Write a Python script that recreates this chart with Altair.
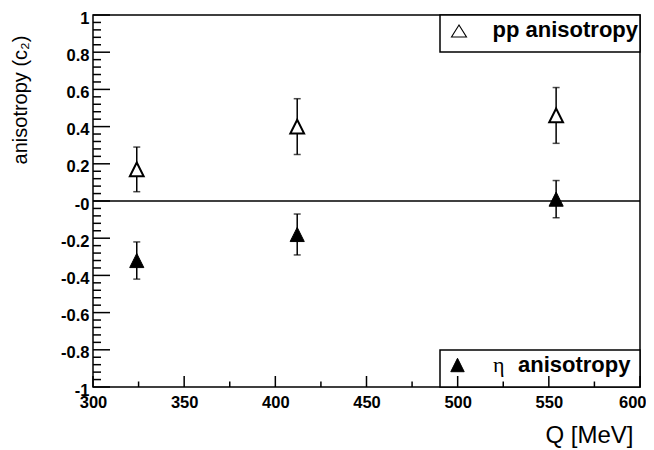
import altair as alt
import pandas as pd

# measured values
q_pp = [324, 412, 554]
c2_pp = [0.17, 0.40, 0.46]
err_pp = [0.12, 0.15, 0.15]

q_eta = [324, 412, 554]
c2_eta = [-0.32, -0.18, 0.01]
err_eta = [0.10, 0.11, 0.10]

x_major = [300, 350, 400, 450, 500, 550, 600]
x_minor = [325, 375, 425, 475, 525, 575]
y_major = [-1.0, -0.8, -0.6, -0.4, -0.2, 0.0, 0.2, 0.4, 0.6, 0.8, 1.0]
y_minor = [round(-1 + 0.04 * i, 2) for i in range(51) if i % 5 != 0]

W, H = 547, 372
FONT = "Liberation Sans"

rows = []
for q, c, e in zip(q_pp, c2_pp, err_pp):
    rows.append(dict(series="pp", Q=q, c2=c, lo=c - e, hi=c + e))
for q, c, e in zip(q_eta, c2_eta, err_eta):
    rows.append(dict(series="eta", Q=q, c2=c, lo=c - e, hi=c + e))
df = pd.DataFrame(rows)

xs = alt.Scale(domain=[300, 600], nice=False, zero=False)
ys = alt.Scale(domain=[-1, 1], nice=False, zero=False)


def X(field):
    return alt.X(field, scale=xs, axis=alt.Axis(
        values=x_major, title="Q [MeV]",
        labelAlign={"condition": {"test": "datum.value == 600", "value": "right"},
                    "value": "center"},
        labelOffset={"condition": {"test": "datum.value == 600", "value": 6},
                     "value": 0}))


def Y(field):
    return alt.Y(field, scale=ys,
                 axis=alt.Axis(values=y_major, title="anisotropy (c\u2082)"))


base = alt.Chart(df)
one = pd.DataFrame({"a": [0]})

carrier = base.mark_point(opacity=0).encode(x=X("Q:Q"), y=Y("c2:Q"))

# legend boxes
box_pp = alt.Chart(one).mark_rect(
    fill="white", stroke="black", strokeWidth=1.5).encode(
    x=alt.value(347), x2=alt.value(W), y=alt.value(0), y2=alt.value(37))
box_eta = alt.Chart(one).mark_rect(
    fill="white", stroke="black", strokeWidth=1.5).encode(
    x=alt.value(347), x2=alt.value(W), y=alt.value(335), y2=alt.value(H))

zero = alt.Chart(pd.DataFrame({"z": [0]})).mark_rule(
    color="black", strokeWidth=1.5).encode(
    y=Y("z:Q"), x=alt.value(0), x2=alt.value(W))

bars = base.mark_rule(color="black", strokeWidth=1.5).encode(
    x=X("Q:Q"), y=Y("lo:Q"), y2="hi:Q")
cap_hi = base.mark_tick(color="black", thickness=1.5, size=7,
                        orient="horizontal").encode(x=X("Q:Q"), y=Y("hi:Q"))
cap_lo = base.mark_tick(color="black", thickness=1.5, size=7,
                        orient="horizontal").encode(x=X("Q:Q"), y=Y("lo:Q"))

TRI = "M0,-1L-1,1L1,1Z"
pts_pp = base.transform_filter(alt.datum.series == "pp").mark_point(
    shape=TRI, size=190, filled=True, fill="white", stroke="black",
    strokeWidth=2, opacity=1).encode(x=X("Q:Q"), y=Y("c2:Q"))
pts_eta = base.transform_filter(alt.datum.series == "eta").mark_point(
    shape=TRI, size=200, filled=True, fill="black", stroke="black",
    strokeWidth=1, opacity=1).encode(x=X("Q:Q"), y=Y("c2:Q"))

# ticks (inward)
ymaj = alt.Chart(pd.DataFrame({"v": y_major})).mark_rule(
    color="black", strokeWidth=1.5).encode(
    y=Y("v:Q"), x=alt.value(0), x2=alt.value(17))
ymin = alt.Chart(pd.DataFrame({"v": y_minor})).mark_rule(
    color="black", strokeWidth=1.5).encode(
    y=Y("v:Q"), x=alt.value(0), x2=alt.value(8))
xmaj = alt.Chart(pd.DataFrame({"v": x_major})).mark_rule(
    color="black", strokeWidth=1.5).encode(
    x=X("v:Q"), y=alt.value(H), y2=alt.value(H - 11))
xmin = alt.Chart(pd.DataFrame({"v": x_minor})).mark_rule(
    color="black", strokeWidth=1.5).encode(
    x=X("v:Q"), y=alt.value(H), y2=alt.value(H - 5.5))

# legend contents
leg_pp_sym = alt.Chart(one).mark_point(
    shape="M0,-0.8L-1,0.8L1,0.8Z", size=225, filled=False, stroke="black",
    strokeWidth=1.1, opacity=1).encode(x=alt.value(366), y=alt.value(16))
leg_pp_txt = alt.Chart(one).mark_text(
    text="pp anisotropy", font=FONT, fontWeight="bold", fontSize=22,
    align="right", baseline="alphabetic", color="black").encode(
    x=alt.value(545), y=alt.value(22))
leg_eta_sym = alt.Chart(one).mark_point(
    shape=TRI, size=180, filled=True, fill="black", stroke="black",
    strokeWidth=1, opacity=1).encode(x=alt.value(364.5), y=alt.value(350))
leg_eta_g = alt.Chart(one).mark_text(
    text="\u03b7", font="Liberation Serif", fontSize=22,
    align="left", baseline="alphabetic", color="black").encode(
    x=alt.value(400), y=alt.value(356.5))
leg_eta_txt = alt.Chart(one).mark_text(
    text="anisotropy", font=FONT, fontWeight="bold", fontSize=22,
    align="left", baseline="alphabetic", color="black").encode(
    x=alt.value(425), y=alt.value(356.5))

chart = alt.layer(
    carrier, box_pp, box_eta, zero, bars, cap_hi, cap_lo, pts_pp, pts_eta,
    ymaj, ymin, xmaj, xmin,
    leg_pp_sym, leg_pp_txt, leg_eta_sym, leg_eta_g, leg_eta_txt,
).properties(
    width=W, height=H,
    autosize=alt.AutoSizeParams(type="none"),
    padding={"left": 85, "top": 7, "right": 6, "bottom": 62},
    background="white",
).configure_view(
    stroke="black", strokeWidth=1.5
).configure_axis(
    domain=False, ticks=False, grid=False, labelFont=FONT,
    labelFontWeight="bold", labelColor="black", labelFlush=False,
    labelOverlap=False, titleFont=FONT, titleFontWeight="normal",
    titleColor="black",
).configure_axisX(
    labelFontSize=16.5, labelPadding=7,
    titleFontSize=24, titleAlign="right", titleBaseline="alphabetic",
    titleX=540, titleY=55, titleAngle=0,
).configure_axisY(
    labelFontSize=16.5, labelPadding=4, labelOffset=3,
    labelExpr="datum.value == 0 ? '-0' : '' + datum.value",
    titleFontSize=20, titleAlign="right", titleBaseline="alphabetic",
    titleX=-67, titleY=20, titleAngle=270,
)

chart.save("out.html", embed_options={"renderer": "svg", "actions": False})
